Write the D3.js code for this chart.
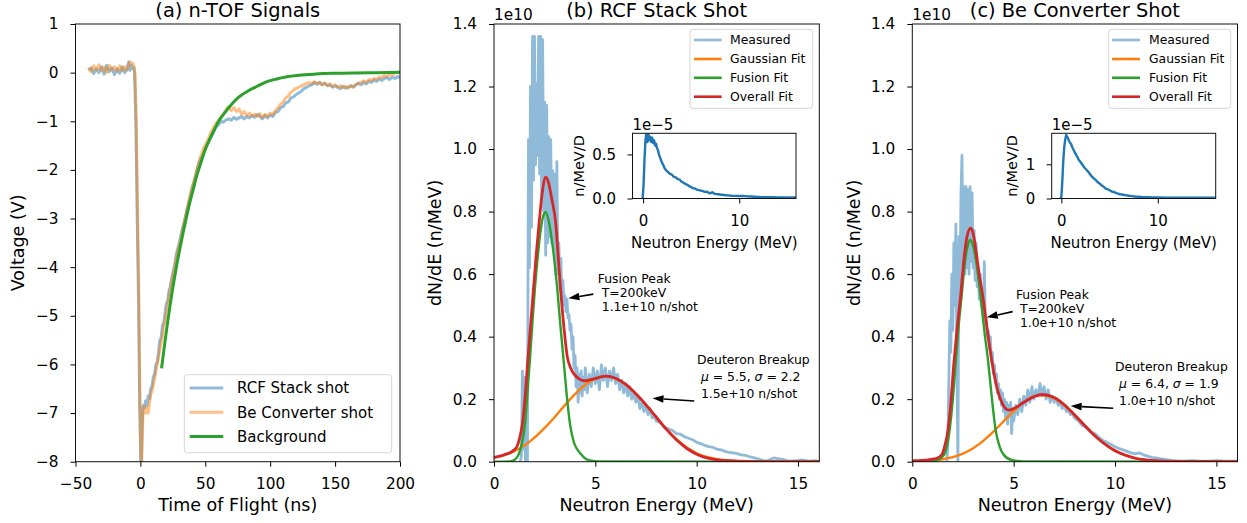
<!DOCTYPE html>
<html><head><meta charset="utf-8">
<script src="https://cdn.jsdelivr.net/npm/d3@7"></script>
<style>
body{margin:0;background:#fff;}
svg{display:block;font-family:"DejaVu Sans",sans-serif;}
</style></head><body>
<svg id="chart" width="1247" height="523"></svg>
<script>
// ---------------- DATA ----------------
// (a) n-TOF signals: [time ns, voltage V]
const tofRCF = [[-40,0.05],[-38,0.1],[-36,-0.02],[-34,0.08],[-32,0.0],[-30,0.12],[-28,-0.03],[-26,0.15],[-24,0.02],[-22,0.1],[-20,-0.04],[-18,0.08],[-16,-0.01],[-14,0.12],[-12,0.0],[-10,0.1],[-9,0.22],[-8,0.05],[-7,0.15],[-6,0.08],[-5,0.1],[-4.5,0.0],[-3.5,-1.0],[-2.5,-2.9],[-1.5,-4.6],[-0.5,-6.9],[0.5,-8.3],[1.2,-7.4],[2,-6.85],[3,-6.9],[4,-6.75],[5,-6.85],[6,-6.65],[7,-6.7],[8,-6.5],[9,-6.45],[10,-6.25],[11,-6.2],[12,-6.0],[13,-5.95],[14,-5.75],[15,-5.5],[16,-5.45],[17,-5.2],[18,-5.15],[19,-4.95],[20,-4.75],[21,-4.7],[22,-4.5],[23,-4.4],[24,-4.25],[26,-4.0],[28,-3.7],[30,-3.5],[32,-3.25],[34,-3.05],[36,-2.8],[38,-2.6],[40,-2.35],[42,-2.2],[44,-1.95],[46,-1.8],[48,-1.7],[50,-1.55],[52,-1.45],[54,-1.35],[56,-1.25],[58,-1.12],[60,-1.08],[62,-1.0],[64,-1.02],[66,-0.97],[68,-0.95],[70,-0.98],[72,-0.92],[74,-0.96],[76,-0.93],[78,-0.9],[80,-0.95],[82,-0.9],[84,-0.93],[86,-0.88],[88,-0.92],[90,-0.86],[92,-0.9],[94,-0.95],[96,-0.88],[98,-0.93],[100,-0.87],[102,-0.9],[104,-0.82],[106,-0.8],[108,-0.72],[110,-0.7],[112,-0.62],[114,-0.6],[116,-0.52],[118,-0.5],[120,-0.45],[122,-0.42],[124,-0.38],[126,-0.33],[128,-0.3],[130,-0.27],[132,-0.25],[134,-0.2],[136,-0.24],[138,-0.2],[140,-0.25],[142,-0.22],[144,-0.27],[146,-0.25],[148,-0.3],[150,-0.27],[152,-0.3],[154,-0.33],[156,-0.28],[158,-0.32],[160,-0.3],[162,-0.27],[164,-0.3],[166,-0.25],[168,-0.22],[170,-0.25],[172,-0.2],[174,-0.23],[176,-0.18],[178,-0.2],[180,-0.15],[182,-0.18],[184,-0.13],[186,-0.16],[188,-0.12],[190,-0.1],[192,-0.14],[194,-0.09],[196,-0.12],[198,-0.08],[200,-0.1]];
const tofBe = [[-40,0.1],[-38,0.02],[-36,0.14],[-34,0.05],[-32,0.16],[-30,0.04],[-28,0.12],[-26,0.0],[-24,0.15],[-22,0.05],[-20,0.12],[-18,0.02],[-16,0.14],[-14,0.04],[-12,0.12],[-10,0.05],[-9,0.15],[-8,0.22],[-7,0.18],[-6,0.2],[-5,0.12],[-4.2,0.0],[-3.2,-1.0],[-2.2,-2.8],[-1.2,-4.6],[-0.3,-6.9],[0.7,-8.3],[1.4,-7.6],[2,-7.0],[3,-6.85],[4,-7.0],[5,-6.9],[6,-7.0],[7,-6.8],[8,-6.6],[9,-6.55],[10,-6.4],[11,-6.3],[12,-6.1],[13,-6.0],[14,-5.85],[15,-5.7],[16,-5.55],[17,-5.4],[18,-5.2],[19,-5.1],[20,-4.9],[21,-4.8],[22,-4.6],[23,-4.45],[24,-4.3],[26,-4.05],[28,-3.75],[30,-3.55],[32,-3.3],[34,-3.05],[36,-2.8],[38,-2.55],[40,-2.35],[42,-2.15],[44,-1.95],[46,-1.75],[48,-1.6],[50,-1.48],[52,-1.38],[54,-1.25],[56,-1.15],[58,-1.05],[60,-0.98],[62,-0.92],[64,-0.85],[66,-0.75],[68,-0.7],[70,-0.78],[72,-0.72],[74,-0.8],[76,-0.75],[78,-0.85],[80,-0.8],[82,-0.88],[84,-0.83],[86,-0.9],[88,-0.85],[90,-0.9],[92,-0.84],[94,-0.92],[96,-0.86],[98,-0.9],[100,-0.83],[102,-0.86],[104,-0.78],[106,-0.72],[108,-0.65],[110,-0.6],[112,-0.52],[114,-0.48],[116,-0.4],[118,-0.36],[120,-0.32],[122,-0.3],[124,-0.27],[126,-0.25],[128,-0.22],[130,-0.2],[132,-0.23],[134,-0.19],[136,-0.22],[138,-0.2],[140,-0.25],[142,-0.21],[144,-0.26],[146,-0.23],[148,-0.28],[150,-0.25],[152,-0.3],[154,-0.27],[156,-0.31],[158,-0.28],[160,-0.32],[162,-0.27],[164,-0.29],[166,-0.24],[168,-0.22],[170,-0.2],[172,-0.17],[174,-0.2],[176,-0.14],[178,-0.16],[180,-0.12],[182,-0.14],[184,-0.09],[186,-0.1],[188,-0.06],[190,-0.08],[192,-0.03],[194,-0.05],[196,-0.01],[198,0.0],[200,0.02]];
const tofBackground = [[16.3,-6.08],[18,-5.72],[20,-5.32],[22.7,-4.81],[25,-4.42],[27.5,-4.03],[30.4,-3.62],[33,-3.28],[35.5,-2.97],[38,-2.68],[40.7,-2.4],[43.2,-2.14],[46,-1.9],[50,-1.58],[53.5,-1.36],[57,-1.17],[61,-0.97],[66,-0.79],[71,-0.63],[76,-0.5],[84,-0.36],[90,-0.28],[97,-0.19],[105,-0.13],[112,-0.09],[122,-0.055],[135,-0.03],[148,-0.015],[165,-0.005],[182,0.0],[200,0.01]];

// (b) RCF stack shot spectra: [MeV, dN/dE in 1e10]
const measuredB = [[1.30,0],[1.35,0.02],[1.40,0.29],[1.45,0.04],[1.50,0.27],[1.55,0.0],[1.60,0.0],[1.65,0.0],[1.70,1.03],[1.75,0.62],[1.80,1.2],[1.85,0.75],[1.90,1.36],[1.95,0.9],[2.00,1.36],[2.05,0.95],[2.10,1.21],[2.15,0.98],[2.20,1.36],[2.25,0.92],[2.30,1.36],[2.35,0.85],[2.40,1.35],[2.45,0.8],[2.50,1.15],[2.55,0.66],[2.60,1.14],[2.65,0.7],[2.70,1.04],[2.75,0.72],[2.80,1.03],[2.85,0.7],[2.90,0.93],[2.95,0.68],[3.00,0.92],[3.05,0.6],[3.10,0.96],[3.15,0.6],[3.20,0.7],[3.25,0.55],[3.30,0.65],[3.35,0.52],[3.40,0.58],[3.45,0.5],[3.50,0.53],[3.55,0.48],[3.60,0.52],[3.65,0.46],[3.70,0.47],[3.75,0.42],[3.80,0.44],[3.85,0.36],[3.90,0.4],[3.95,0.3],[4.00,0.34],[4.05,0.24],[4.10,0.3],[4.15,0.19],[4.20,0.28],[4.25,0.22],[4.30,0.29],[4.35,0.21],[4.40,0.27],[4.45,0.23],[4.50,0.3],[4.6,0.22],[4.7,0.28],[4.8,0.24],[4.9,0.3],[5.0,0.25],[5.1,0.29],[5.2,0.23],[5.3,0.31],[5.4,0.26],[5.5,0.3],[5.6,0.24],[5.7,0.29],[5.8,0.26],[5.9,0.3],[6.0,0.25],[6.1,0.28],[6.2,0.23],[6.3,0.26],[6.4,0.22],[6.5,0.25],[6.6,0.21],[6.7,0.24],[6.8,0.2],[6.9,0.22],[7.0,0.19],[7.1,0.21],[7.2,0.17],[7.3,0.19],[7.4,0.16],[7.5,0.18],[7.6,0.15],[7.7,0.17],[7.8,0.14],[7.9,0.15],[8.0,0.13],[8.2,0.125],[8.4,0.11],[8.6,0.105],[8.8,0.1],[9.0,0.09],[9.2,0.088],[9.4,0.08],[9.6,0.075],[9.8,0.07],[10.0,0.062],[10.2,0.058],[10.4,0.052],[10.6,0.048],[10.8,0.046],[11.0,0.04],[11.2,0.038],[11.4,0.033],[11.6,0.03],[11.8,0.028],[12.0,0.026],[12.2,0.022],[12.4,0.02],[12.6,0.016],[12.8,0.013],[13.0,0.01],[13.2,0.005],[13.4,0.002],[13.6,0.006],[13.8,0.012],[14.0,0.01],[14.2,0.008],[14.4,0.004],[14.6,0.002],[14.8,0.003],[15.0,0.004],[15.2,0.006],[15.4,0.003],[15.6,0.002],[15.8,0.003],[16.0,0.002]];
const gaussianB = [[0,0.012],[0.5,0.021],[1,0.034],[1.5,0.052],[2,0.077],[2.5,0.108],[3,0.143],[3.5,0.181],[4,0.216],[4.5,0.246],[5,0.266],[5.5,0.273],[6,0.266],[6.5,0.246],[7,0.216],[7.5,0.181],[8,0.143],[8.5,0.105],[9,0.072],[9.5,0.046],[10,0.027],[10.5,0.015],[11,0.008],[11.5,0.004],[12,0.002],[13,0.0005],[14,0],[16.1,0]];
const fusionB = [[0,0],[0.8,0.001],[1.0,0.005],[1.23,0.025],[1.38,0.06],[1.53,0.12],[1.65,0.22],[1.78,0.334],[1.9,0.45],[2.01,0.547],[2.15,0.65],[2.3,0.74],[2.45,0.79],[2.55,0.798],[2.7,0.77],[2.83,0.72],[2.96,0.654],[3.13,0.547],[3.27,0.44],[3.42,0.334],[3.58,0.22],[3.75,0.12],[3.95,0.06],[4.1,0.04],[4.28,0.025],[4.5,0.01],[4.8,0.003],[5.2,0.001],[16.1,0]];
const overallB = [[0,0.014],[0.5,0.022],[0.9,0.033],[1.15,0.051],[1.28,0.08],[1.4,0.12],[1.55,0.22],[1.68,0.334],[1.81,0.44],[1.94,0.547],[2.08,0.66],[2.22,0.76],[2.38,0.86],[2.55,0.91],[2.7,0.89],[2.85,0.84],[3.05,0.76],[3.17,0.655],[3.29,0.547],[3.45,0.43],[3.62,0.334],[3.78,0.30],[3.95,0.28],[4.2,0.265],[4.44,0.259],[4.8,0.263],[5.2,0.27],[5.5,0.274],[6.0,0.267],[6.5,0.247],[7.0,0.217],[7.5,0.182],[8.0,0.143],[8.5,0.104],[9.0,0.07],[9.5,0.043],[10.0,0.024],[10.5,0.012],[11.0,0.006],[12.0,0.002],[13,0.0005],[16.1,0]];
// inset (b): [MeV, n/MeV/D in 1e-5]
const insetB = [[-0.05,0.0],[0.05,0.15],[0.15,0.45],[0.25,0.66],[0.35,0.75],[0.45,0.64],[0.55,0.73],[0.65,0.66],[0.75,0.7],[0.85,0.64],[0.95,0.69],[1.05,0.63],[1.15,0.66],[1.25,0.6],[1.35,0.62],[1.45,0.57],[1.55,0.55],[1.65,0.5],[1.75,0.47],[1.85,0.44],[1.95,0.41],[2.1,0.38],[2.25,0.34],[2.4,0.32],[2.6,0.3],[2.8,0.28],[3.0,0.27],[3.2,0.245],[3.4,0.24],[3.6,0.22],[3.8,0.215],[4.0,0.19],[4.2,0.18],[4.4,0.165],[4.6,0.155],[4.8,0.14],[5.0,0.13],[5.2,0.115],[5.4,0.115],[5.6,0.1],[5.8,0.095],[6.0,0.09],[6.2,0.085],[6.4,0.075],[6.6,0.078],[6.8,0.065],[7.0,0.06],[7.2,0.07],[7.4,0.055],[7.6,0.05],[7.8,0.048],[8.0,0.045],[8.4,0.04],[8.8,0.036],[9.2,0.032],[9.6,0.03],[10.0,0.028],[10.4,0.03],[10.8,0.024],[11.2,0.022],[11.6,0.02],[12.0,0.018],[12.5,0.016],[13.0,0.015],[13.5,0.014],[14.0,0.013],[14.5,0.012],[15.0,0.012],[15.5,0.011],[16.0,0.011]];

// (c) Be converter shot spectra
const measuredC = [[1.70,0],[1.75,0.05],[1.80,0.25],[1.85,0.45],[1.90,0.35],[1.95,0.6],[2.00,0.42],[2.05,0.7],[2.10,0.5],[2.15,0.76],[2.20,0.3],[2.25,0.0],[2.30,0.72],[2.35,0.55],[2.40,0.85],[2.45,0.98],[2.50,0.62],[2.55,0.88],[2.60,0.6],[2.65,0.88],[2.70,0.62],[2.75,0.87],[2.80,0.6],[2.85,0.88],[2.90,0.64],[2.95,0.86],[3.00,0.62],[3.05,0.74],[3.10,0.58],[3.15,0.7],[3.20,0.56],[3.25,0.62],[3.30,0.52],[3.35,0.6],[3.40,0.5],[3.45,0.55],[3.50,0.46],[3.55,0.64],[3.60,0.44],[3.65,0.46],[3.70,0.4],[3.75,0.42],[3.80,0.36],[3.85,0.4],[3.90,0.32],[3.95,0.35],[4.00,0.28],[4.05,0.31],[4.10,0.25],[4.15,0.28],[4.20,0.22],[4.25,0.25],[4.30,0.2],[4.35,0.23],[4.40,0.18],[4.45,0.22],[4.50,0.16],[4.55,0.2],[4.60,0.14],[4.65,0.19],[4.70,0.12],[4.75,0.18],[4.80,0.15],[4.85,0.19],[4.90,0.09],[4.95,0.17],[5.0,0.13],[5.1,0.18],[5.2,0.15],[5.3,0.2],[5.4,0.16],[5.5,0.21],[5.6,0.18],[5.7,0.23],[5.8,0.19],[5.9,0.24],[6.0,0.2],[6.1,0.23],[6.2,0.21],[6.3,0.25],[6.4,0.21],[6.5,0.24],[6.6,0.2],[6.7,0.23],[6.8,0.19],[6.9,0.21],[7.0,0.19],[7.1,0.2],[7.2,0.18],[7.3,0.19],[7.4,0.17],[7.5,0.18],[7.6,0.16],[7.7,0.165],[7.8,0.15],[7.9,0.155],[8.0,0.14],[8.2,0.13],[8.4,0.115],[8.6,0.11],[8.8,0.095],[9.0,0.09],[9.2,0.078],[9.4,0.068],[9.6,0.062],[9.8,0.055],[10.0,0.048],[10.2,0.042],[10.4,0.038],[10.6,0.033],[10.8,0.028],[11.0,0.025],[11.2,0.028],[11.4,0.022],[11.6,0.018],[11.8,0.014],[12.0,0.012],[12.2,0.01],[12.4,0.008],[12.6,0.006],[12.8,0.004],[13.0,0.003],[13.4,0.002],[13.8,0.003],[14.2,0.002],[14.6,0.002],[15.0,0.003],[15.4,0.002],[16.0,0.002]];
const gaussianC = [[0,0.0007],[1,0.0037],[1.5,0.0077],[2,0.0146],[2.5,0.0259],[3,0.043],[3.5,0.0664],[4,0.0959],[4.5,0.129],[5,0.162],[5.5,0.19],[6,0.208],[6.4,0.213],[7,0.203],[7.5,0.18],[8,0.149],[8.5,0.116],[9,0.0835],[9.5,0.0563],[10,0.0354],[10.5,0.0208],[11,0.0114],[11.5,0.0058],[12,0.0028],[13,0.0005],[14,0.0001],[16.1,0]];
const fusionC = [[0,0],[1.0,0.001],[1.23,0.005],[1.56,0.021],[1.84,0.101],[2.0,0.2],[2.14,0.315],[2.28,0.43],[2.43,0.528],[2.6,0.64],[2.75,0.695],[2.87,0.709],[3.0,0.69],[3.15,0.64],[3.37,0.528],[3.55,0.42],[3.75,0.315],[3.93,0.2],[4.11,0.101],[4.3,0.05],[4.52,0.021],[4.93,0.005],[5.5,0.001],[16.1,0]];
const overallC = [[0,0.003],[0.5,0.004],[1.0,0.008],[1.25,0.012],[1.48,0.025],[1.6,0.05],[1.76,0.101],[1.9,0.19],[2.05,0.315],[2.2,0.42],[2.38,0.528],[2.55,0.65],[2.7,0.72],[2.87,0.747],[3.0,0.73],[3.15,0.67],[3.3,0.6],[3.48,0.528],[3.7,0.42],[3.94,0.315],[4.2,0.23],[4.45,0.185],[4.76,0.165],[5.0,0.17],[5.5,0.19],[6.0,0.208],[6.4,0.215],[7.0,0.205],[7.5,0.182],[8.0,0.15],[8.5,0.116],[9.0,0.083],[9.5,0.056],[10,0.035],[10.5,0.021],[11,0.011],[11.5,0.006],[12,0.003],[13,0.001],[16.1,0]];
const insetC = [[-0.1,0.0],[0.0,0.05],[0.1,0.5],[0.2,1.1],[0.3,1.5],[0.4,1.72],[0.5,1.86],[0.6,1.8],[0.7,1.76],[0.8,1.68],[0.9,1.63],[1.0,1.6],[1.1,1.52],[1.2,1.46],[1.3,1.4],[1.4,1.34],[1.5,1.3],[1.6,1.24],[1.7,1.2],[1.8,1.13],[1.9,1.1],[2.0,1.06],[2.2,0.98],[2.4,0.9],[2.6,0.84],[2.8,0.78],[3.0,0.7],[3.2,0.63],[3.4,0.58],[3.6,0.53],[3.8,0.47],[4.0,0.43],[4.2,0.38],[4.4,0.34],[4.6,0.29],[4.8,0.27],[5.0,0.24],[5.2,0.21],[5.4,0.19],[5.6,0.17],[5.8,0.15],[6.0,0.13],[6.2,0.12],[6.4,0.11],[6.6,0.1],[6.8,0.09],[7.0,0.08],[7.3,0.07],[7.6,0.06],[8.0,0.05],[8.5,0.04],[9.0,0.035],[9.5,0.03],[10.0,0.028],[11.0,0.025],[12.0,0.022],[13.0,0.02],[14.0,0.02],[15.0,0.02],[16.0,0.02]];

// tick values & labels
const tofTicksX = [-50,0,50,100,150,200];
const tofTickLabelsX = ["\u221250","0","50","100","150","200"];
const tofTicksY = [1,0,-1,-2,-3,-4,-5,-6,-7,-8];
const tofTickLabelsY = ["1","0","\u22121","\u22122","\u22123","\u22124","\u22125","\u22126","\u22127","\u22128"];
const specTicksX = [0,5,10,15];
const specTickLabelsX = ["0","5","10","15"];
const specTicksY = [0,0.2,0.4,0.6,0.8,1.0,1.2,1.4];
const specTickLabelsY = ["0.0","0.2","0.4","0.6","0.8","1.0","1.2","1.4"];
const insetTicksX = [0,10];
const insetTickLabelsX = ["0","10"];
const insetBTicksY = [0,0.5];
const insetBTickLabelsY = ["0.0","0.5"];
const insetCTicksY = [0,1];
const insetCTickLabelsY = ["0","1"];

// texts
const titles = ["(a) n-TOF Signals","(b) RCF Stack Shot","(c) Be Converter Shot"];
const tofLegend = ["RCF Stack shot","Be Converter shot","Background"];
const specLegend = ["Measured","Gaussian Fit","Fusion Fit","Overall Fit"];
const fusionTextB = ["Fusion Peak","T=200keV","1.1e+10 n/shot"];
const breakupTextB = ["Deuteron Breakup",["5.5","2.2"],"1.5e+10 n/shot"];
const fusionTextC = ["Fusion Peak","T=200keV","1.0e+10 n/shot"];
const breakupTextC = ["Deuteron Breakup",["6.4","1.9"],"1.0e+10 n/shot"];
// annotation anchors in data coords: tip (xy), arrow tail, text anchor
const annFusionB = {tip:[3.67,0.523], tail:[4.90,0.536], text:[5.12,0.573]};
const annBreakB  = {tip:[7.82,0.203], tail:[9.88,0.194], text:[10.01,0.3125]};
const annFusionC = {tip:[3.67,0.462], tail:[4.95,0.48], text:[5.11,0.5205]};
const annBreakC  = {tip:[7.81,0.178], tail:[9.91,0.171], text:[10.0,0.291]};

// ---------------- DRAWING ----------------
const svg = d3.select("#chart");
const FONT = "DejaVu Sans";
const C_BLUE="#1f77b4", C_ORANGE="#ff7f0e", C_GREEN="#2ca02c", C_RED="#d62728";
const defs = svg.append("defs");

function clip(id, b){
  defs.append("clipPath").attr("id",id).append("rect")
    .attr("x",b.l).attr("y",b.t).attr("width",b.r-b.l).attr("height",b.b-b.t);
}
function drawLine(g, data, x, y, color, opts={}){
  const ln = d3.line().x(d=>x(d[0])).y(d=>y(d[1])).curve(opts.curve||d3.curveLinear);
  g.append("path").datum(data).attr("d",ln).attr("fill","none")
    .attr("stroke",color).attr("stroke-width",opts.w||2.6)
    .attr("stroke-opacity",opts.a==null?1:opts.a)
    .attr("stroke-linejoin","round").attr("stroke-linecap","butt");
}
function drawAxes(g, x, y, b, xt, xtl, yt, ytl, fs, padX, padY){
  const gx = g.append("g").attr("transform",`translate(0,${b.b})`)
    .call(d3.axisBottom(x).tickValues(xt).tickFormat((d,i)=>xtl[i]).tickSize(5).tickPadding(padX).tickSizeOuter(0));
  gx.select(".domain").remove();
  gx.attr("font-size",fs).attr("font-family",FONT);
  gx.selectAll("line").attr("stroke","#000").attr("stroke-width",1);
  gx.selectAll("text").attr("fill","#000");
  const gy = g.append("g").attr("transform",`translate(${b.l},0)`)
    .call(d3.axisLeft(y).tickValues(yt).tickFormat((d,i)=>ytl[i]).tickSize(5).tickPadding(padY).tickSizeOuter(0));
  gy.select(".domain").remove();
  gy.attr("font-size",fs).attr("font-family",FONT);
  gy.selectAll("line").attr("stroke","#000").attr("stroke-width",1);
  gy.selectAll("text").attr("fill","#000");
  g.append("rect").attr("x",b.l).attr("y",b.t).attr("width",b.r-b.l).attr("height",b.b-b.t)
    .attr("fill","none").attr("stroke","#111").attr("stroke-width",1);
}
function text(g, s, x, y, fs, anchor="start", rot=0){
  const t = g.append("text").attr("font-family",FONT).attr("font-size",fs).attr("text-anchor",anchor).attr("fill","#000");
  if(rot) t.attr("transform",`translate(${x},${y}) rotate(${rot})`);
  else t.attr("x",x).attr("y",y);
  t.text(s); return t;
}
function legend(g, box, items, ys, lx1, lx2, tx, fs, lw){
  g.append("rect").attr("x",box[0]).attr("y",box[1]).attr("width",box[2]-box[0]).attr("height",box[3]-box[1])
    .attr("rx",3).attr("fill","#fff").attr("fill-opacity",0.8).attr("stroke","#d5d5d5").attr("stroke-width",1);
  items.forEach((it,i)=>{
    g.append("line").attr("x1",lx1).attr("x2",lx2).attr("y1",ys[i]).attr("y2",ys[i])
      .attr("stroke",it.c).attr("stroke-opacity",it.a).attr("stroke-width",lw);
    text(g, it.label, tx, ys[i]+fs*0.36, fs);
  });
}
function arrow(g, x1,y1,x2,y2){
  const dx=x2-x1, dy=y2-y1, L=Math.hypot(dx,dy), ux=dx/L, uy=dy/L;
  const hl=11, hw=3.8, bx=x2-ux*hl, by=y2-uy*hl;
  g.append("line").attr("x1",x1).attr("y1",y1).attr("x2",bx).attr("y2",by).attr("stroke","#000").attr("stroke-width",1.6);
  g.append("path").attr("d",`M${x2},${y2}L${bx-uy*hw},${by+ux*hw}L${bx+uy*hw},${by-ux*hw}Z`).attr("fill","#000");
}
function annotate(g, x, y, ann, lines, spacing, fs, isBreak){
  arrow(g, x(ann.tail[0]), y(ann.tail[1]), x(ann.tip[0]), y(ann.tip[1]));
  const x0 = x(ann.text[0]), y0 = y(ann.text[1]);
  lines.forEach((ln,i)=>{
    const xi = i===0 ? x0 : x0+4;
    const t = g.append("text").attr("font-family",FONT).attr("font-size",fs).attr("fill","#000")
      .attr("x",xi).attr("y",y0+i*spacing);
    if(Array.isArray(ln)){
      t.append("tspan").attr("font-style","italic").text("\u03bc");
      t.append("tspan").text(" = "+ln[0]+", ");
      t.append("tspan").attr("font-style","italic").text("\u03c3");
      t.append("tspan").text(" = "+ln[1]);
    } else t.text(ln);
  });
}

// ----- Panel (a)
const A = {l:75.5,t:24,r:400,b:461.7};
const xa = d3.scaleLinear().domain([-50,200]).range([A.l,A.r]);
const ya = d3.scaleLinear().domain([-8,1]).range([A.b,A.t]);
clip("clipA",A);
const ga = svg.append("g");
const la = ga.append("g").attr("clip-path","url(#clipA)");
drawLine(la, tofRCF, xa, ya, C_BLUE, {a:0.5,w:3});
drawLine(la, tofBe, xa, ya, C_ORANGE, {a:0.5,w:3});
drawLine(la, tofBackground, xa, ya, C_GREEN, {w:3,curve:d3.curveMonotoneX});
drawAxes(ga, xa, ya, A, tofTicksX, tofTickLabelsX, tofTicksY, tofTickLabelsY, 15.3, 11, 12);
text(ga, titles[0], (A.l+A.r)/2, 17, 19.4, "middle");
text(ga, "Time of Flight (ns)", (A.l+A.r)/2, 511, 17.5, "middle");
text(ga, "Voltage (V)", 24, (A.t+A.b)/2, 17.5, "middle", -90);
legend(ga, [184.3,374.7,391.7,452.7], [
  {label:tofLegend[0],c:C_BLUE,a:0.5},{label:tofLegend[1],c:C_ORANGE,a:0.5},{label:tofLegend[2],c:C_GREEN,a:1}],
  [388,412.2,436.6], 189.7, 223.3, 237, 15, 3);

// ----- Spectrum panels
function specPanel(id, B, xmax, meas, gau, fus, ovr, title, annF, linesF, annD, linesD, legBox, legX, IB, ixd, iyd, idata, iyt, iytl, ylabX, iylabX){
  const x = d3.scaleLinear().domain([0,xmax]).range([B.l,B.r]);
  const y = d3.scaleLinear().domain([0,1.4]).range([B.b,B.t]);
  clip(id,B);
  const g = svg.append("g");
  const lg = g.append("g").attr("clip-path",`url(#${id})`);
  drawLine(lg, meas, x, y, C_BLUE, {a:0.5,w:2.8});
  drawLine(lg, gau, x, y, C_ORANGE, {w:2.4,curve:d3.curveMonotoneX});
  drawLine(lg, fus, x, y, C_GREEN, {w:2.4,curve:d3.curveMonotoneX});
  drawLine(lg, ovr, x, y, C_RED, {w:2.8,curve:d3.curveMonotoneX});
  drawAxes(g, x, y, B, specTicksX, specTickLabelsX, specTicksY, specTickLabelsY, 15.3, 11, 12);
  text(g, "1e10", B.l, 19.5, 15.3);
  text(g, title, (B.l+B.r)/2, 17, 19.4, "middle");
  text(g, "Neutron Energy (MeV)", (B.l+B.r)/2, 511, 17.5, "middle");
  text(g, "dN/dE (n/MeV)", ylabX, (B.t+B.b)/2, 17.5, "middle", -90);
  legend(g, legBox, [
    {label:specLegend[0],c:C_BLUE,a:0.5},{label:specLegend[1],c:C_ORANGE,a:1},
    {label:specLegend[2],c:C_GREEN,a:1},{label:specLegend[3],c:C_RED,a:1}],
    [40,59,77.8,96.7], legX[0], legX[1], legX[2], 12.4, 2.6);
  annotate(g, x, y, annF, linesF, 14.2, 12.4);
  annotate(g, x, y, annD, linesD, 17, 12.4);
  // inset
  const ix = d3.scaleLinear().domain(ixd).range([IB.l,IB.r]);
  const iy = d3.scaleLinear().domain(iyd).range([IB.b,IB.t]);
  clip(id+"i",IB);
  g.append("rect").attr("x",IB.l).attr("y",IB.t).attr("width",IB.r-IB.l).attr("height",IB.b-IB.t).attr("fill","#fff");
  const il = g.append("g").attr("clip-path",`url(#${id}i)`);
  drawLine(il, idata, ix, iy, C_BLUE, {w:2.4});
  drawAxes(g, ix, iy, IB, insetTicksX, insetTickLabelsX, iyt, iytl, 15, 12, 11.5);
  text(g, "1e\u22125", IB.l, 130, 15);
  text(g, "Neutron Energy (MeV)", (IB.l+IB.r)/2, 247.5, 15, "middle");
  text(g, "n/MeV/D", iylabX, (IB.t+IB.b)/2, 14.5, "middle", -90);
}

specPanel("clipB", {l:494,t:24,r:819.3,b:461.7}, 16.05, measuredB, gaussianB, fusionB, overallB, titles[1],
  annFusionB, fusionTextB, annBreakB, breakupTextB, [690,29.3,812.7,108.3], [694,721.7,730],
  {l:632.5,t:133.3,r:796,b:198.5}, [-1.1,15.9], [0,0.74], insetB, insetBTicksY, insetBTickLabelsY, 441, 584);
specPanel("clipC", {l:912.3,t:24,r:1237.5,b:461.7}, 16.04, measuredC, gaussianC, fusionC, overallC, titles[2],
  annFusionC, fusionTextC, annBreakC, breakupTextC, [1108.7,29.3,1230.7,108.3], [1112,1140,1149],
  {l:1051.7,t:133.3,r:1215.7,b:198.5}, [-1.0,16.0], [0,1.906], insetC, insetCTicksY, insetCTickLabelsY, 859.5, 1017);
</script>
</body></html>
